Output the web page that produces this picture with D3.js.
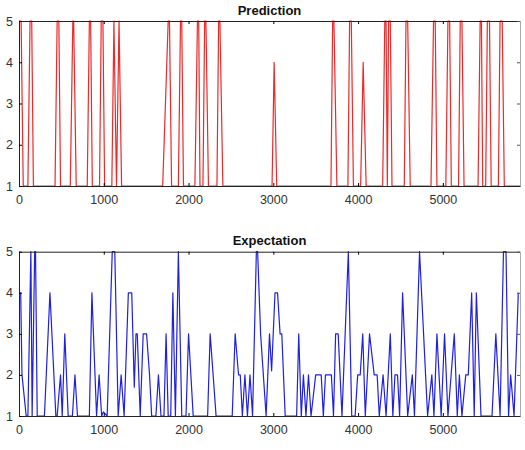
<!DOCTYPE html>
<html>
<head>
<meta charset="utf-8">
<script src="https://cdn.jsdelivr.net/npm/d3@7"></script>
<style>
  body { margin: 0; background: #fff; }
  svg { display: block; font-family: "Liberation Sans", Arial, sans-serif; }
  .tick text { font-size: 12.5px; fill: #333; }
  .title { font-size: 13px; font-weight: bold; fill: #111; }
</style>
</head>
<body>
<div id="chart"></div>
<script>
const xMax = 5910;
const xTicks = [0, 1000, 2000, 3000, 4000, 5000];
const yTicks = [1, 2, 3, 4, 5];

// Prediction series (sample index, class)
const predX = [0, 25, 50, 105, 130, 150, 170, 425, 450, 470, 490, 605, 635, 645, 675,
  805, 830, 845, 865, 950, 970, 990, 1010, 1095, 1120, 1150, 1180, 1210,
  1695, 1760, 1775, 1800, 1880, 1905, 1920, 1940, 2075, 2105, 2120, 2135,
  2170, 2190, 2205, 2235, 2335, 2355, 2370, 2405, 2985, 3010, 3040,
  3680, 3700, 3715, 3750, 3880, 3900, 3920, 3945, 4030, 4060, 4095,
  4290, 4315, 4330, 4345, 4360, 4380, 4400, 4545, 4565, 4585, 4615,
  4860, 4890, 4910, 4930, 5035, 5060, 5080, 5100, 5185, 5205, 5225, 5250,
  5415, 5440, 5455, 5470, 5505, 5525, 5550, 5570, 5655, 5675, 5700, 5725, 5910];
const predY = [5, 5, 1, 1, 5, 5, 1, 1, 5, 5, 1, 1, 5, 5, 1,
  1, 5, 5, 1, 1, 5, 5, 1, 1, 5, 1, 5, 1,
  1, 5, 5, 1, 1, 5, 5, 1, 1, 5, 5, 1,
  1, 5, 5, 1, 1, 5, 5, 1, 1, 4, 1,
  1, 5, 5, 1, 1, 5, 5, 1, 1, 4, 1,
  1, 5, 5, 1, 5, 5, 1, 1, 5, 5, 1,
  1, 5, 5, 1, 1, 5, 5, 1, 1, 5, 5, 1,
  1, 5, 5, 1, 1, 5, 5, 1, 1, 5, 5, 1, 1];

// Expectation series
const expX = [0, 20, 35, 85, 105, 140, 155, 185, 195, 215, 300, 365, 435, 450, 490, 510, 540, 580,
  630, 660, 690, 830, 860, 915, 945, 975, 995, 1040, 1100, 1130, 1170, 1205, 1240,
  1290, 1330, 1360, 1380, 1395, 1430, 1465, 1505, 1540, 1565, 1615, 1645, 1675,
  1710, 1735, 1760, 1790, 1815, 1845, 1880, 1920, 1970, 2000, 2055, 2225, 2255, 2325,
  2515, 2550, 2590, 2610, 2635, 2665, 2695, 2725, 2755, 2800, 2815, 2850, 2915,
  2955, 2980, 3020, 3050, 3080, 3100, 3140, 3275, 3300, 3330, 3355, 3385, 3415, 3445,
  3500, 3565, 3590, 3615, 3685, 3710, 3735, 3765, 3810, 3885, 3925, 3965, 3995, 4025,
  4055, 4085, 4135, 4190, 4225, 4250, 4295, 4330, 4380, 4410, 4435, 4465, 4490,
  4525, 4585, 4640, 4665, 4725, 4820, 4870, 4895, 4930, 4980, 5020, 5060, 5135, 5170,
  5195, 5225, 5270, 5300, 5340, 5370, 5395, 5450, 5580, 5625, 5675, 5715, 5745,
  5775, 5800, 5840, 5890];
const expY = [4, 4, 2, 1, 1, 5, 1, 5, 5, 1, 1, 4, 1, 1, 2, 1, 3, 1,
  1, 2, 1, 1, 4, 1, 2, 1, 1.1, 1, 5, 5, 1, 2, 1,
  4, 4, 1.7, 3, 3, 1, 3, 3, 2, 1, 1, 2, 1,
  1, 3, 1, 1, 4, 1, 5, 1, 1, 3, 1, 1, 3, 1,
  1, 3, 2, 2, 1, 2, 1, 2, 1, 5, 5, 3, 1,
  3, 2.1, 4, 4, 3, 3, 1, 1, 3, 1, 2, 1, 2, 1,
  2, 2, 1, 2, 2, 1, 3, 3, 1, 5, 1, 1, 2, 2,
  3, 1, 3, 2, 2, 1, 2, 1, 3, 1, 2, 2, 1,
  4, 1, 2, 1, 5, 1, 2, 1, 3, 1, 3, 1, 3, 1,
  2, 1, 2, 2, 4, 1, 4, 1, 1, 3, 1, 5, 5,
  1, 2, 1, 4];

const width = 525, height = 450;
const svg = d3.select("#chart").append("svg")
  .attr("width", width)
  .attr("height", height);

const left = 19, right = 520;
const xScale = d3.scaleLinear().domain([0, xMax]).range([left, right]);

function drawPanel(top, bottom, title, titleY, xs, ys, color) {
  const yScale = d3.scaleLinear().domain([1, 5]).range([bottom, top]);
  const g = svg.append("g");

  const line = d3.line()
    .x(i => xScale(xs[i]))
    .y(i => yScale(ys[i]));

  g.append("path")
    .datum(d3.range(xs.length))
    .attr("fill", "none")
    .attr("stroke", color)
    .attr("stroke-width", 1.2)
    .attr("stroke-linejoin", "round")
    .attr("d", line);

  // box with inward ticks
  const bottomAxis = d3.axisBottom(xScale).tickValues(xTicks).tickFormat(d3.format("d"))
    .tickSizeInner(-3).tickSizeOuter(0).tickPadding(9.5);
  const leftAxis = d3.axisLeft(yScale).tickValues(yTicks).tickFormat(d3.format("d"))
    .tickSizeInner(-3).tickSizeOuter(0).tickPadding(6);
  const topAxis = d3.axisTop(xScale).tickValues(xTicks).tickFormat("")
    .tickSizeInner(-3).tickSizeOuter(0);
  const rightAxis = d3.axisRight(yScale).tickValues(yTicks).tickFormat("")
    .tickSizeInner(-3).tickSizeOuter(0);

  g.append("g").attr("transform", `translate(0,${top})`).call(topAxis)
    .call(a => a.select(".domain").attr("stroke", "#222"));
  g.append("g").attr("transform", `translate(${right},0)`).call(rightAxis)
    .call(a => a.select(".domain").attr("stroke", "#aaa"))
    .call(a => a.selectAll(".tick line").attr("stroke", "#555"));
  g.append("g").attr("transform", `translate(0,${bottom})`).call(bottomAxis)
    .call(a => a.select(".domain").attr("stroke", "#222"));
  g.append("g").attr("transform", `translate(${left},0)`).call(leftAxis)
    .call(a => a.select(".domain").attr("stroke", "#222"));

  g.selectAll(".tick text").attr("font-size", null);

  svg.append("text")
    .attr("class", "title")
    .attr("x", (left + right) / 2)
    .attr("y", titleY)
    .attr("text-anchor", "middle")
    .text(title);
}

drawPanel(21, 186, "Prediction", 15, predX, predY, "#ec2a2a");
drawPanel(251.7, 416, "Expectation", 245, expX, expY, "#2020e0");
</script>
</body>
</html>
